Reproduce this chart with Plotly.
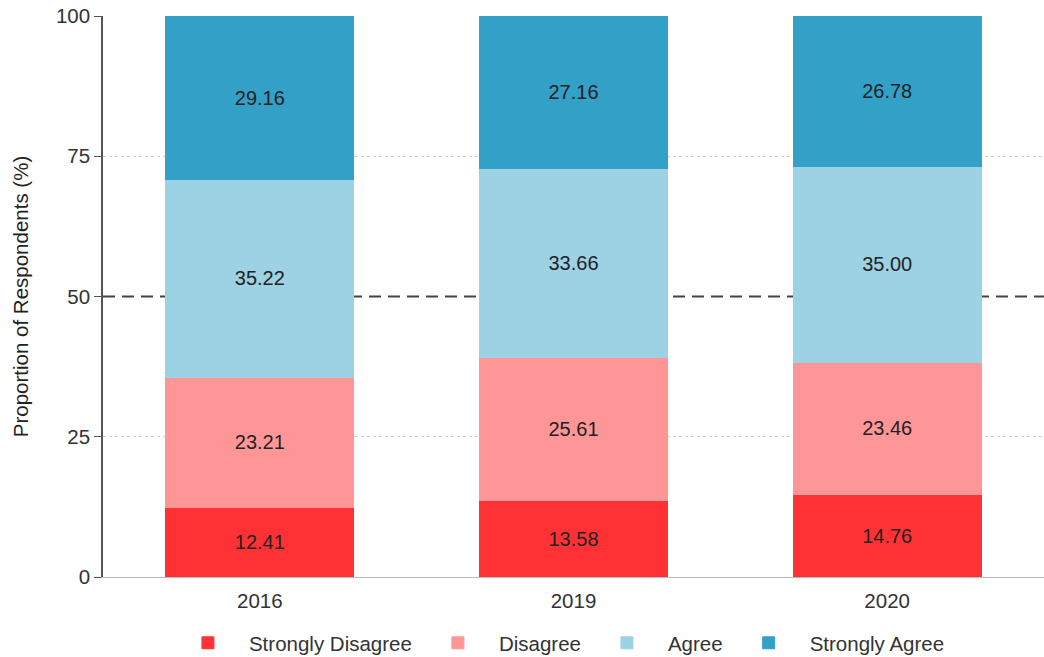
import plotly.graph_objects as go

years = ["2016", "2019", "2020"]
series_names = ["Strongly Disagree", "Disagree", "Agree", "Strongly Agree"]
strongly_disagree = [12.41, 13.58, 14.76]
disagree = [23.21, 25.61, 23.46]
agree = [35.22, 33.66, 35.00]
strongly_agree = [29.16, 27.16, 26.78]
colors = ["#FE3234", "#FE9698", "#9DD1E4", "#33A0C8"]
y_ticks = [0, 25, 50, 75, 100]
grid_ticks = [0, 25, 75, 100]

values = [strongly_disagree, disagree, agree, strongly_agree]
FONT = "Liberation Sans, Arial, sans-serif"

fig = go.Figure()
for name, vals, col in zip(series_names, values, colors):
    fig.add_trace(go.Bar(
        x=years, y=vals, name=name,
        marker=dict(color=col, line=dict(color=col, width=1)),
        text=[f"{v:.2f}" for v in vals],
        textposition="inside", insidetextanchor="middle",
        textfont=dict(color="#222222", size=20, family=FONT),
        width=0.6,
    ))

fig.add_hline(y=50, layer="below", line=dict(color="#444444", width=2, dash="12px,7px"))

fig.update_layout(
    barmode="stack",
    width=1044, height=657,
    margin=dict(l=103, r=0, t=16, b=80, autoexpand=False),
    plot_bgcolor="white", paper_bgcolor="white",
    font=dict(family=FONT, color="#333333", size=20),
    legend=dict(orientation="h", x=0.484, xanchor="center", y=-0.1176, yanchor="middle",
                font=dict(size=20.5, color="#333333"), traceorder="normal",
                itemwidth=72, bgcolor="rgba(0,0,0,0)"),
    uniformtext=dict(minsize=16, mode="show"),
)
fig.update_xaxes(range=[-0.5, 2.5], showgrid=False, showline=True, linecolor="#BBBBBB",
                 linewidth=1, ticks="", ticklabelstandoff=5,
                 tickfont=dict(size=20.5, color="#333333"))
fig.update_yaxes(range=[0, 100], tickvals=y_ticks, showgrid=False,
                 minor=dict(tickvals=grid_ticks, showgrid=True, gridcolor="#D0D0D0",
                            griddash="dot", gridwidth=1, ticks=""),
                 showline=True, linecolor="#555555",
                 linewidth=1.5, ticks="outside", ticklen=7, tickcolor="#555555",
                 tickfont=dict(size=20.5, color="#333333"), zeroline=False,
                 title=dict(text="Proportion of Respondents (%)", font=dict(size=20.5, color="#222222"),
                            standoff=22))

fig.write_html("out.html", config={"displayModeBar": False},
               post_script="document.body.style.margin='0';")
